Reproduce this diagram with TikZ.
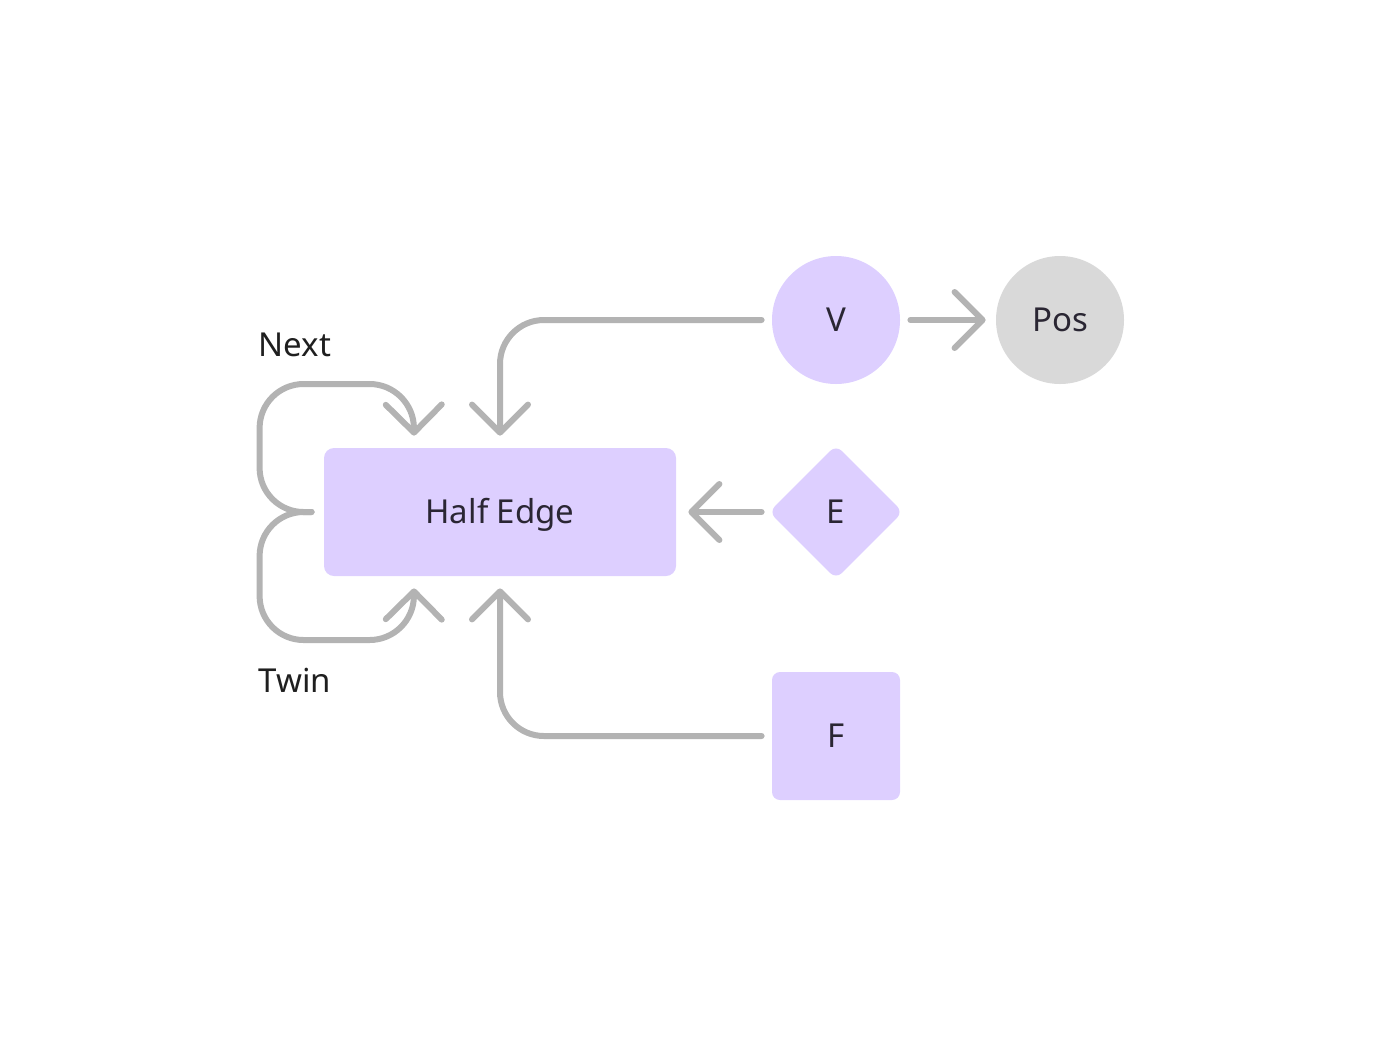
\documentclass[tikz,border=0pt]{standalone}
\usepackage{fontspec}
\setmainfont{Noto Sans}
\usetikzlibrary{arrows.meta, shapes.geometric}
\definecolor{lavender}{HTML}{DDCFFF}
\definecolor{posgray}{HTML}{D9D9D9}
\definecolor{linkgray}{HTML}{B3B3B3}
\definecolor{ink}{HTML}{2A2633}
\tikzset{
  graph node/.style={
    fill=lavender,
    text=ink,
    inner sep=0pt,
    align=center,
    text height=11.8pt,
    text depth=0pt,
    font=\fontsize{16.5}{20}\selectfont,
  },
  link/.style={
    draw=linkgray,
    line width=3pt,
    line cap=round,
    line join=round,
    rounded corners=22pt,
    -{Straight Barb[length=14pt,width=28pt,round]},
  },
  label text/.style={
    text=black!88,
    inner sep=0pt,
    text height=11.8pt,
    text depth=0pt,
    font=\fontsize{16.5}{20}\selectfont,
  },
}

\begin{document}
\begin{tikzpicture}[x=0.5pt, y=-0.5pt]
        \useasboundingbox (0,0) rectangle (1380,1056);

        \node[graph node, rectangle, rounded corners=5pt, minimum width=176pt, minimum height=64pt] (half) at (500,512) {Half Edge};
        \node[graph node, circle, minimum size=64pt] (v) at (836,320) {V};
        \node[graph node, circle, fill=posgray, minimum size=64pt] (pos) at (1060,320) {Pos};
        \node[graph node, diamond, rounded corners=4pt, minimum size=67pt] (e) at (836,512) {E};
        \node[graph node, rectangle, rounded corners=4pt, minimum size=64pt] (f) at (836,736) {F};

        \node[label text] (next) at (295,345) {Next};
        \node[label text] (twin) at (295,681) {Twin};

        \draw[link] ([xshift=-5pt]v.west) -| ([yshift=6pt]half.north);
        \draw[link] ([xshift=5pt]v.east) -- ([xshift=-5pt]pos.west);
        \draw[link] ([xshift=-3.5pt]e.west) -- ([xshift=6pt]half.east);
        \draw[link] ([xshift=-5pt]f.west) -| ([yshift=-6pt]half.south);

        \draw[link] ([xshift=-6pt]half.west) -- ++(-52,0) |- ++(154,-128)
        -- ([xshift=-43pt,yshift=6pt]half.north);
        \draw[link] ([xshift=-6pt]half.west) -- ++(-52,0) |- ++(154,128)
        -- ([xshift=-43pt,yshift=-6pt]half.south);
      \end{tikzpicture}
\end{document}
